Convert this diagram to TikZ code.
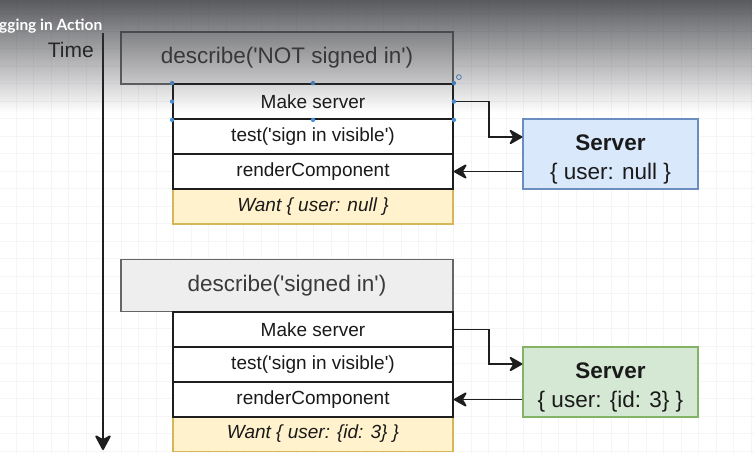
\documentclass[tikz,border=0pt]{standalone}
\usepackage{fontspec}
\setmainfont{Liberation Sans}
\newfontfamily\bannerfont{Lato}
\usetikzlibrary{arrows.meta,calc,fadings}

\definecolor{gridcol}{HTML}{F5F5F7}
\definecolor{descfill}{HTML}{EEEEEE}
\definecolor{descline}{HTML}{666666}
\definecolor{desctext}{HTML}{3A3A3A}
\definecolor{stepline}{HTML}{1E1E1E}
\definecolor{steptext}{HTML}{1A1A1A}
\definecolor{wantfill}{HTML}{FFF2CC}
\definecolor{wantline}{HTML}{D6B656}
\definecolor{bluefill}{HTML}{DAE8FC}
\definecolor{blueline}{HTML}{6C8EBF}
\definecolor{greenfill}{HTML}{D5E8D4}
\definecolor{greenline}{HTML}{82B366}
\definecolor{bannercol}{HTML}{36373C}
\definecolor{handlecol}{HTML}{4A90D9}

\newcommand{\q}{\textquotesingle}

% darkening band along the top edge
\tikzfading[name=bannerfade, top color=transparent!18, middle color=transparent!70, bottom color=transparent!100]

\begin{document}
\begin{tikzpicture}[x=1pt, y=1pt,
  descbox/.style={draw=descline, fill=descfill, line width=1.4pt,
    minimum width=332pt, minimum height=52pt, inner sep=0pt,
    font=\fontsize{22.5}{26}\selectfont, text=desctext},
  stepbox/.style={draw=stepline, fill=white, line width=1.8pt,
    minimum width=280pt, minimum height=35pt, inner sep=0pt,
    font=\fontsize{19}{22}\selectfont, text=steptext},
  wantbox/.style={stepbox, draw=wantline, fill=wantfill, line width=1.5pt,
    font=\fontsize{19}{22}\selectfont\itshape},
  serverbox/.style={line width=1.4pt, minimum width=175pt, minimum height=70pt,
    inner sep=0pt, align=center, text=steptext,
    font=\fontsize{22.5}{29}\selectfont},
  conn/.style={line width=1.8pt, color=stepline,
    -{Stealth[length=15pt,width=17pt,inset=5pt,round]}},
  axis/.style={line width=1.9pt, color=stepline,
    -{Stealth[length=17pt,width=18pt,inset=5pt,round]}},
  handle/.style={fill=handlecol},
]
\useasboundingbox (0,-453) rectangle (754,0);
\fill[white] (0,-453) rectangle (754,0);

% background grid
\begin{scope}[shift={(16,-13.5)}]
  \draw[gridcol, line width=0.6pt, step=17.5] (-16,-440) grid (738,13.5);
\end{scope}

% time axis
\coordinate (t0) at (103,-33);
\coordinate (t1) at (103,-450);
\draw[axis] (t0) -- (t1);
\node[anchor=base east, inner sep=0pt, font=\fontsize{21}{24}\selectfont, text=steptext]
  (time) at (94,-57) {Time};

% first suite
\node[descbox] (d1) at (287,-58) {describe(\q NOT signed in\q)};
\node[wantbox] (w1) at (313,-206.5) {Want \{ user: null \}};
\node[stepbox] (ms1) at (313,-101.5) {Make server};
\node[stepbox] (ts1) at (313,-136.5) {test(\q sign in visible\q)};
\node[stepbox] (rc1) at (313,-171.5) {renderComponent};
\node[serverbox, draw=blueline, fill=bluefill] (srv1) at (610.5,-154)
  {\rule{0pt}{26pt}\textbf{Server}\\\{ user: null \}};

\draw[conn] (ms1.east) -- ++(35,0) |- ($(srv1.west)+(0,17)$);
\draw[conn] (srv1.west |- rc1.east) -- (rc1.east);

% selection handles around the first step
\foreach \a in {north west,north,north east,west,east,south west,south,south east}
  \fill[handle] (ms1.\a) circle (2.2pt);
\draw[handlecol, line width=0.8pt] ($(ms1.north east)+(5,6)$) circle (2.4pt);

% second suite
\node[descbox] (d2) at (287,-285.5) {describe(\q signed in\q)};
\node[wantbox] (w2) at (313,-434) {Want \{ user: \{id: 3\} \}};
\node[stepbox] (ms2) at (313,-329.5) {Make server};
\node[stepbox] (ts2) at (313,-364.5) {test(\q sign in visible\q)};
\node[stepbox] (rc2) at (313,-399.5) {renderComponent};
\node[serverbox, draw=greenline, fill=greenfill] (srv2) at (610.5,-382)
  {\rule{0pt}{26pt}\textbf{Server}\\\{ user: \{id: 3\} \}};

\draw[conn] (ms2.east) -- ++(35,0) |- ($(srv2.west)+(0,18)$);
\draw[conn] (srv2.west |- rc2.east) -- (rc2.east);

% dark band along the top with its title
\fill[bannercol, path fading=bannerfade] (0,0) rectangle (754,-112);
\node[anchor=base west, inner sep=0pt, text=white,
  font=\bannerfont\bfseries\fontsize{15.5}{17}\selectfont] (banner) at (-1,-30.5) {gging in Action};
\end{tikzpicture}
\end{document}
